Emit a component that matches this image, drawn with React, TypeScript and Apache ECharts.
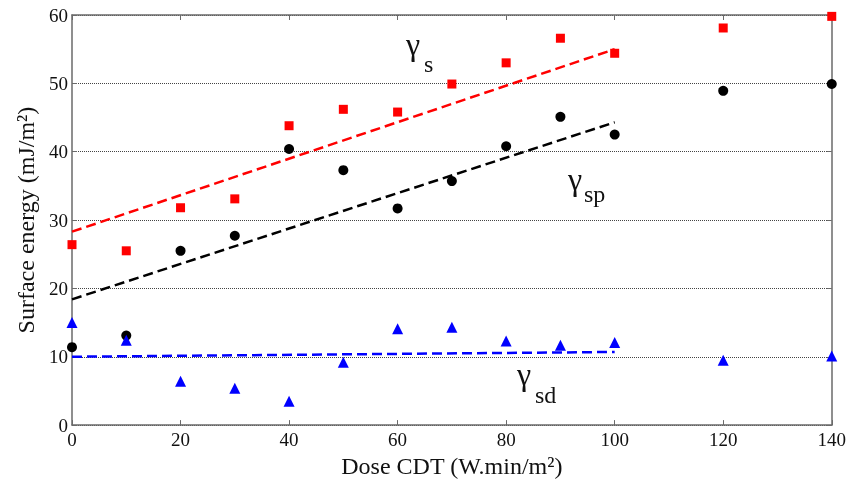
import React, { useEffect, useRef } from "react";
import * as echarts from "echarts";

const doses = [0, 10, 20, 30, 40, 50, 60, 70, 80, 90, 100, 120, 140];
const gammaS = [26.4, 25.5, 31.8, 33.1, 43.8, 46.2, 45.8, 49.9, 53.0, 56.6, 54.4, 58.1, 59.8];
const gammaSP = [11.4, 13.1, 25.5, 27.7, 40.4, 37.3, 31.7, 35.7, 40.8, 45.1, 42.5, 48.9, 49.9];
const gammaSD = [15.0, 12.4, 6.4, 5.4, 3.5, 9.2, 14.1, 14.3, 12.3, 11.7, 12.1, 9.5, 10.1];
const fitX = [0, 100];
const fitS = [28.3, 55.0];
const fitSP = [18.4, 44.3];
const fitSD = [10.0, 10.7];

const FONT = "Liberation Serif";

function pairs(xs: number[], ys: number[]) {
  return xs.map((x, i) => [x, ys[i]]);
}

export default function App() {
  const ref = useRef<HTMLDivElement>(null);
  useEffect(() => {
    if (!ref.current) return;
    const chart = echarts.init(ref.current, null, { renderer: "svg" });
    const mkLine = () => ({ show: true, onZero: false, lineStyle: { color: "#6a6a6a", width: 1.5 } });
    const mkTick = () => ({ show: true, inside: true, length: 5, lineStyle: { color: "#6a6a6a", width: 1 } });
    const g = (text: string, left: number, top: number, size: number) => ({
      type: "text", left, top,
      style: { text, fontFamily: FONT, fontSize: size, fill: "#111" },
    });
    chart.setOption({
      animation: false,
      grid: { left: 72, right: 17, top: 15, bottom: 57 },
      xAxis: [
        {
          type: "value", min: 0, max: 140, interval: 20, position: "bottom",
          axisLine: mkLine(), axisTick: mkTick(), splitLine: { show: false },
          axisLabel: { color: "#111", fontFamily: FONT, fontSize: 19, margin: 5 },
          name: "Dose CDT (W.min/m²)", nameLocation: "middle", nameGap: 25,
          nameTextStyle: { color: "#111", fontFamily: FONT, fontSize: 24 },
        },
        {
          type: "value", min: 0, max: 140, interval: 20, position: "top",
          axisLine: mkLine(), axisTick: mkTick(), splitLine: { show: false }, axisLabel: { show: false },
        },
      ],
      yAxis: [
        {
          type: "value", min: 0, max: 60, interval: 10, position: "left",
          axisLine: mkLine(), axisTick: mkTick(),
          splitLine: { show: true, lineStyle: { color: "#444444", type: "dotted", width: 1 } },
          axisLabel: { color: "#111", fontFamily: FONT, fontSize: 19, margin: 4 },
          name: "Surface energy (mJ/m²)", nameLocation: "middle", nameGap: 30,
          nameTextStyle: { color: "#111", fontFamily: FONT, fontSize: 24 },
        },
        {
          type: "value", min: 0, max: 60, interval: 10, position: "right",
          axisLine: mkLine(), axisTick: mkTick(), splitLine: { show: false }, axisLabel: { show: false },
        },
      ],
      series: [
        { type: "line", data: pairs(fitX, fitS), symbol: "none", lineStyle: { color: "#ff0000", width: 2.5, type: "dashed" } },
        { type: "line", data: pairs(fitX, fitSP), symbol: "none", lineStyle: { color: "#000000", width: 2.5, type: "dashed" } },
        { type: "line", data: pairs(fitX, fitSD), symbol: "none", lineStyle: { color: "#0000ff", width: 2.5, type: "dashed" } },
        { type: "scatter", data: pairs(doses, gammaS), symbol: "rect", symbolSize: 9, itemStyle: { color: "#ff0000", opacity: 1 } },
        { type: "scatter", data: pairs(doses, gammaSP), symbol: "circle", symbolSize: 10, itemStyle: { color: "#000000", opacity: 1 } },
        { type: "scatter", data: pairs(doses, gammaSD), symbol: "triangle", symbolSize: 11, itemStyle: { color: "#0000ff", opacity: 1 } },
      ],
      graphic: [
        g("γ", 406, 28, 32),
        g("s", 424, 52, 24),
        g("γ", 568, 163, 32),
        g("sp", 584, 182, 24),
        g("γ", 517, 358, 32),
        g("sd", 535, 383, 24),
      ],
    });
    return () => chart.dispose();
  }, []);
  return <div ref={ref} style={{ width: 849, height: 483, position: "fixed", left: 0, top: 0 }} />;
}
